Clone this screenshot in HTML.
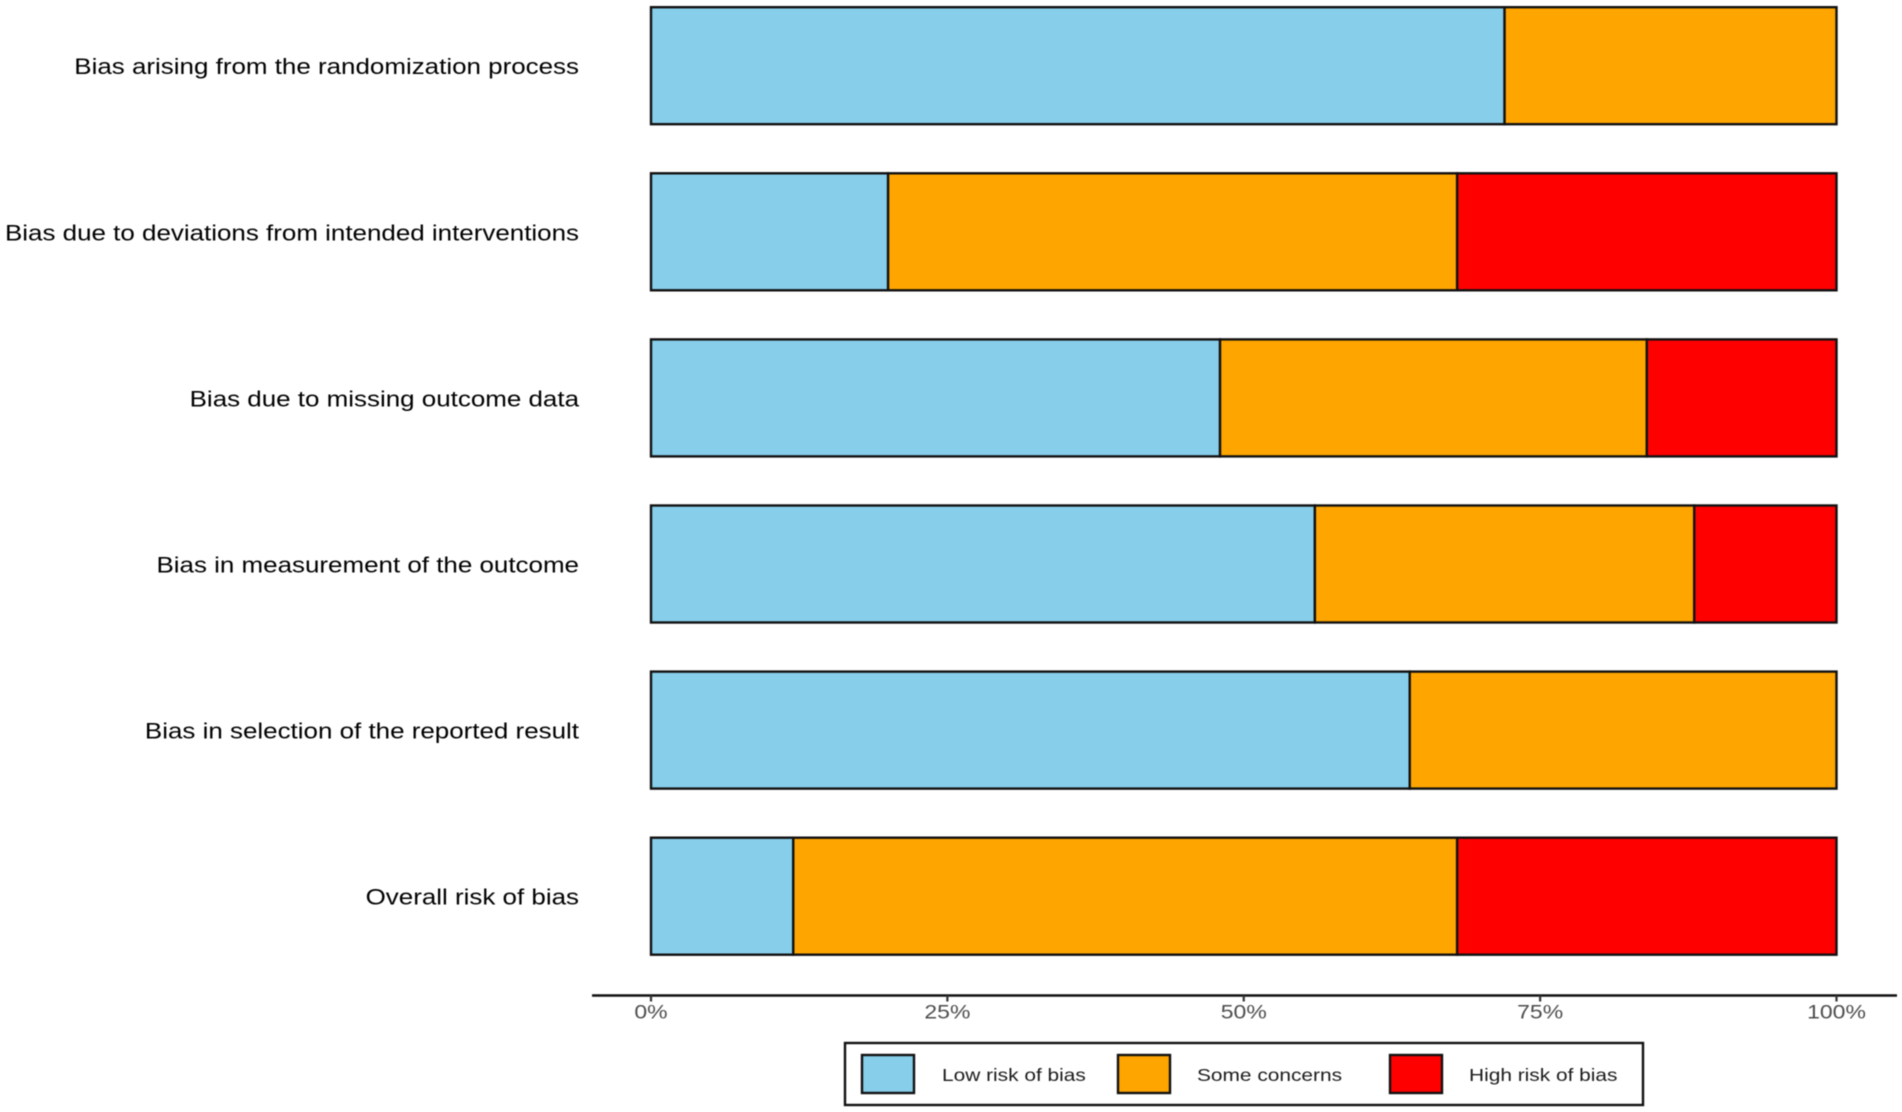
<!DOCTYPE html>
<html lang="en">
<head>
<meta charset="utf-8">
<title>Risk of bias summary</title>
<style>
html,body{margin:0;padding:0;background:#fff;}
svg{display:block;font-family:"Liberation Sans",sans-serif;filter:blur(0.4px);}
</style>
</head>
<body>
<svg id="chart" xmlns="http://www.w3.org/2000/svg" width="1902" height="1112" viewBox="0 0 1902 1112"></svg>
<script>
const categories = [
  "Bias arising from the randomization process",
  "Bias due to deviations from intended interventions",
  "Bias due to missing outcome data",
  "Bias in measurement of the outcome",
  "Bias in selection of the reported result",
  "Overall risk of bias"
];
const seriesNames = ["Low risk of bias", "Some concerns", "High risk of bias"];
const lowRisk = [72, 20, 48, 56, 64, 12];
const someConcerns = [28, 48, 36, 32, 36, 56];
const highRisk = [0, 32, 16, 12, 0, 32];
const tickValues = [0, 25, 50, 75, 100];
const tickLabels = ["0%", "25%", "50%", "75%", "100%"];

const NS = "http://www.w3.org/2000/svg";
const svg = document.getElementById("chart");
const colors = ["#87CEEB", "#FFA500", "#FF0000"];
const series = [lowRisk, someConcerns, highRisk];
const seriesKeys = ["low-risk", "some-concerns", "high-risk"];
const INK = "#111";

const xScale = v => 651 + (v / 100) * 1185.5;
const yCenter = i => 65.7 + i * 166.1;
const BAR_H = 117;
const AXIS_Y = 995.5;

function node(tag, attrs, parent) {
  const el = document.createElementNS(NS, tag);
  for (const k in attrs) el.setAttribute(k, attrs[k]);
  (parent || svg).appendChild(el);
  return el;
}
function stretchedText(str, x, y, size, anchor, fill, sx) {
  const el = node("text", {
    transform: "translate(" + x + " " + y + ") scale(" + sx + " 1)",
    "font-size": size,
    "text-anchor": anchor,
    fill: fill
  });
  el.textContent = str;
  return el;
}

categories.forEach((name, i) => {
  const cy = yCenter(i);
  const label = stretchedText(name, 579, cy + 8.5, 22, "end", "#000", 1.18);
  
  
  let cum = 0;
  series.forEach((vals, s) => {
    const v = vals[i];
    if (v > 0) {
      const rect = node("rect", {
        x: xScale(cum),
        y: cy - BAR_H / 2,
        width: xScale(cum + v) - xScale(cum),
        height: BAR_H,
        fill: colors[s],
        stroke: INK,
        "stroke-width": 2.4
      });
      
      
    }
    cum += v;
  });
});

const axisLine = node("line", { x1: 592, x2: 1897, y1: AXIS_Y, y2: AXIS_Y, stroke: INK, "stroke-width": 2.4 });



tickValues.forEach((v, i) => {
  const x = xScale(v);
  const tick = node("line", { x1: x, x2: x, y1: AXIS_Y, y2: AXIS_Y + 6, stroke: "#333", "stroke-width": 2.2 });
  
  
  const label = stretchedText(tickLabels[i], x, AXIS_Y + 23, 19, "middle", "#4d4d4d", 1.21);
  
  
});

const legendBox = node("rect", { x: 845, y: 1043, width: 798, height: 62, fill: "#fff", stroke: INK, "stroke-width": 2.4 });



const legendKeyX = [862, 1118, 1390];
const legendTextX = [942, 1197, 1469];
seriesNames.forEach((name, s) => {
  const key = node("rect", { x: legendKeyX[s], y: 1055, width: 52, height: 38, fill: colors[s], stroke: INK, "stroke-width": 2.4 });
  
  
  const t = stretchedText(name, legendTextX[s], 1081, 18, "start", "#1a1a1a", 1.16);
  
  
});
</script>
</body>
</html>
